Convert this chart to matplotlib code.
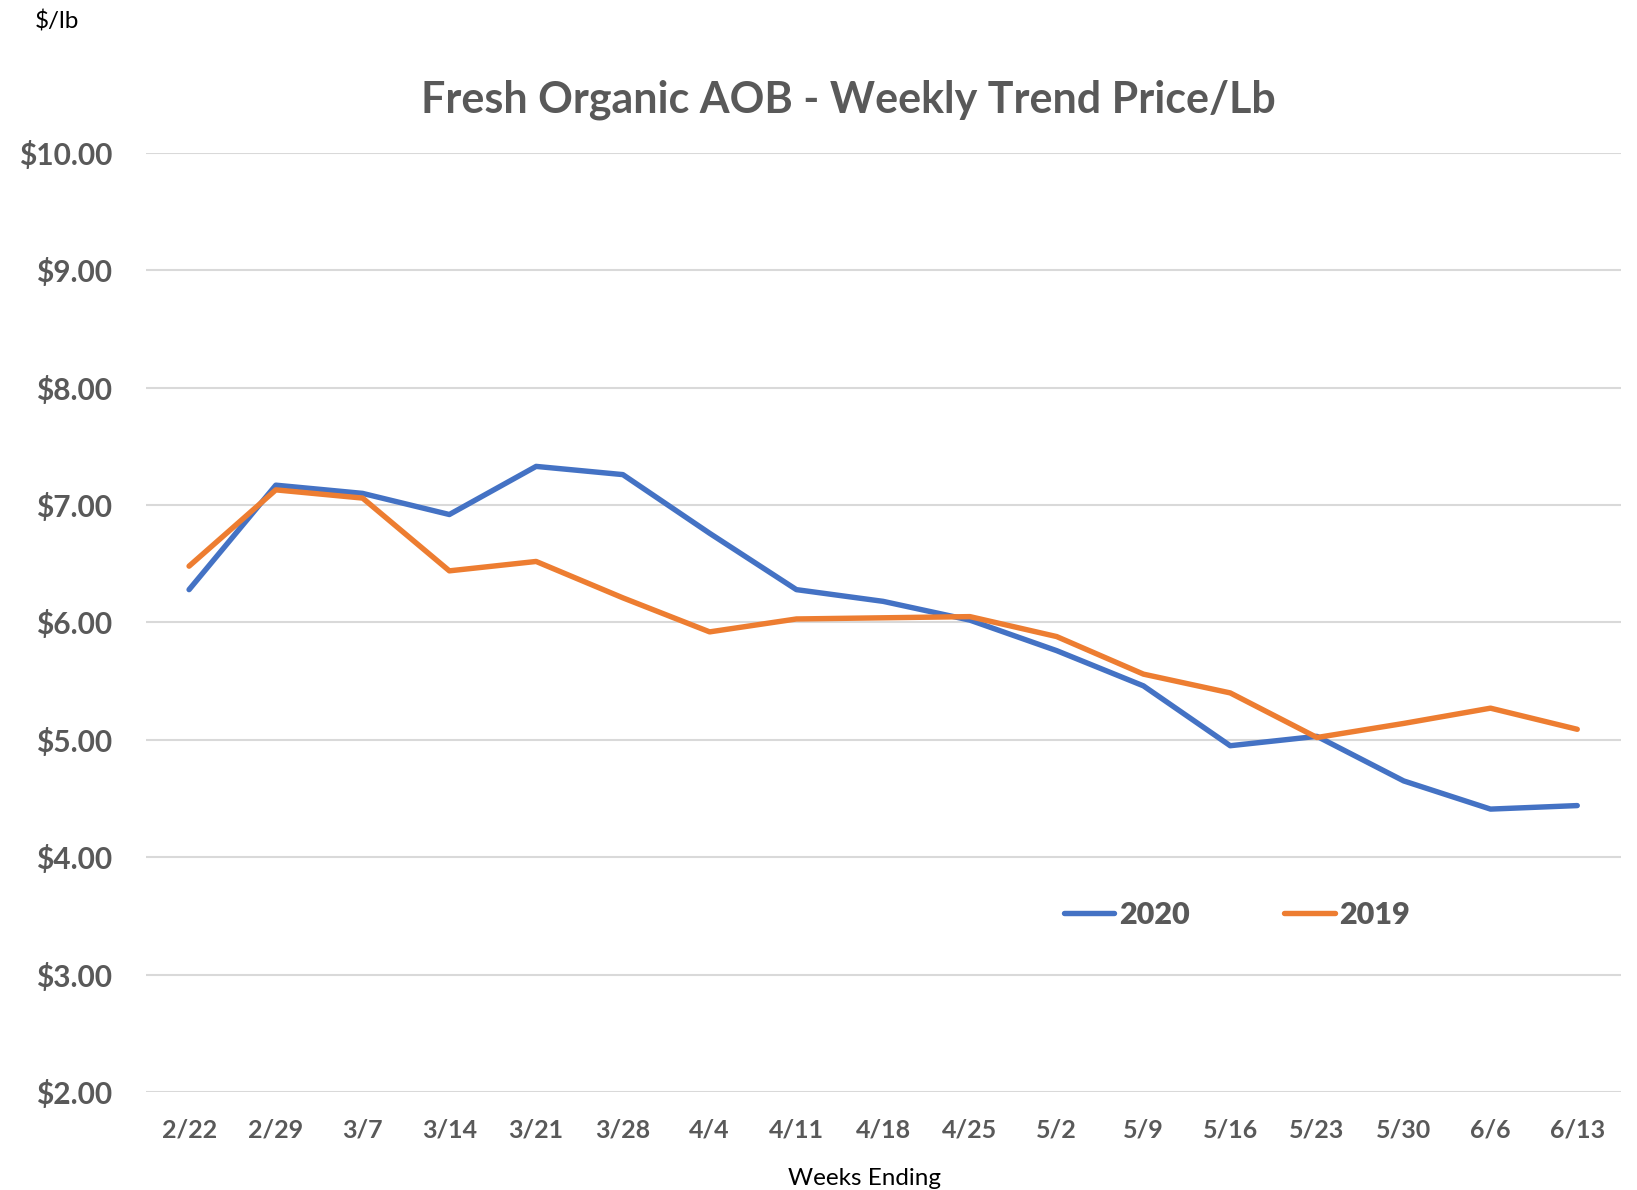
import matplotlib
matplotlib.use('Agg')
import matplotlib.pyplot as plt
from matplotlib.ticker import FuncFormatter

weeks = ['2/22', '2/29', '3/7', '3/14', '3/21', '3/28', '4/4', '4/11', '4/18',
         '4/25', '5/2', '5/9', '5/16', '5/23', '5/30', '6/6', '6/13']
price_2020 = [6.28, 7.17, 7.10, 6.92, 7.33, 7.26, 6.76, 6.28, 6.18,
              6.02, 5.76, 5.46, 4.95, 5.03, 4.65, 4.41, 4.44]
price_2019 = [6.48, 7.13, 7.06, 6.44, 6.52, 6.21, 5.92, 6.03, 6.04,
              6.05, 5.88, 5.56, 5.40, 5.02, 5.14, 5.27, 5.09]
y_ticks = [2, 3, 4, 5, 6, 7, 8, 9, 10]

plt.rcParams['font.family'] = ['Lato', 'DejaVu Sans']
gray = '#595959'


def main():
    fig = plt.figure(figsize=(16.37, 11.90), dpi=100)
    ax = fig.add_axes([0.089, 0.0824, 0.901, 0.789])
    x = list(range(len(weeks)))
    ax.plot(x, price_2020, color='#4472C4', lw=3.9, label='2020', solid_capstyle='round')
    ax.plot(x, price_2019, color='#ED7D31', lw=3.9, label='2019', solid_capstyle='round')

    ax.set_xlim(-0.5, len(weeks) - 0.5)
    ax.set_ylim(2, 10)
    ax.set_yticks(y_ticks)
    ax.yaxis.set_major_formatter(FuncFormatter(lambda v, p: '${:.2f}'.format(v)))
    ax.set_xticks(x)
    ax.set_xticklabels(weeks)
    ax.grid(axis='y', color='#D9D9D9', lw=1.5)
    ax.set_axisbelow(True)
    for s in ax.spines.values():
        s.set_visible(False)
    ax.tick_params(length=0, colors=gray)
    ax.tick_params(axis='y', labelsize=21.5, pad=24)
    ax.tick_params(axis='x', labelsize=18, pad=19)
    for lab in ax.get_xticklabels() + ax.get_yticklabels():
        lab.set_fontweight('bold')

    fig.text(0.518, 0.916, 'Fresh Organic AOB - Weekly Trend Price/Lb', ha='center', va='center',
             fontsize=31, fontweight='bold', color=gray)
    fig.text(0.021, 0.982, '$/lb', ha='left', va='center', fontsize=17.5, color='black')
    fig.text(0.528, 0.01, 'Weeks Ending', ha='center', va='center', fontsize=17.5, color='black')

    leg = ax.legend(ncol=2, frameon=False, loc='center', bbox_to_anchor=(0.7557, 0.231),
                    bbox_transform=fig.transFigure, handlelength=1.65, handletextpad=0.15,
                    columnspacing=3.1, prop={'size': 22, 'weight': 'heavy'})
    for t in leg.get_texts():
        t.set_color(gray)

    fig.savefig('out.png', dpi=100)


if __name__ == '__main__':
    main()
